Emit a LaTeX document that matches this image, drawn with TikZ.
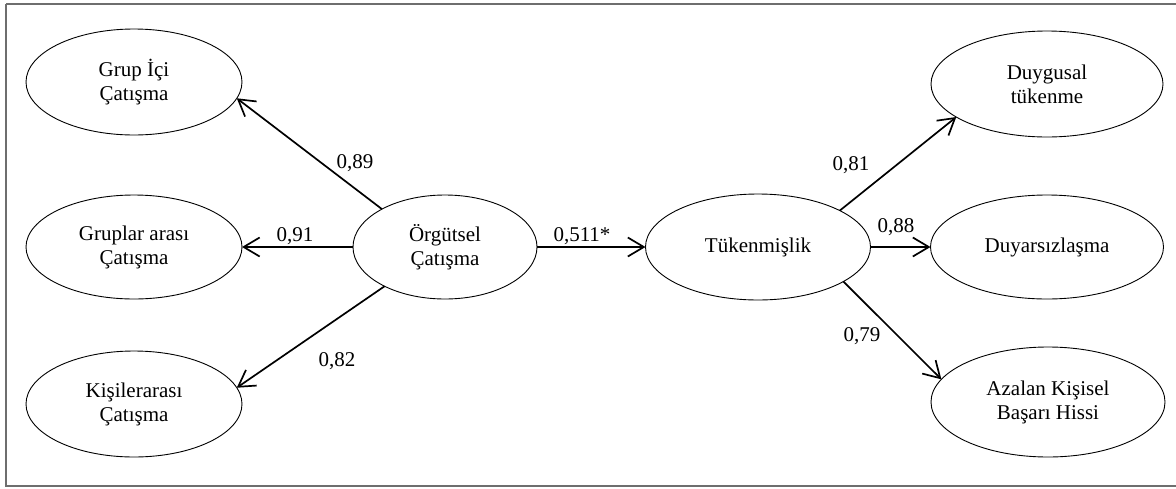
\documentclass[tikz,border=0pt]{standalone}
\usepackage{fontspec}
\setmainfont{Liberation Serif}
\usetikzlibrary{shapes.geometric,arrows.meta}
\definecolor{framegray}{RGB}{110,110,110}
\begin{document}
\begin{tikzpicture}[x=1pt,y=-1pt,
  ell/.style={ellipse, draw, line width=0.9pt, outer sep=0pt, inner sep=0pt, align=center,
              font=\fontsize{21}{24}\selectfont},
  conn/.style={line width=1.7pt, -{Straight Barb[length=16pt,width=19pt]}},
  lab/.style={font=\fontsize{21}{24}\selectfont, inner sep=0pt}]
\useasboundingbox (0,0) rectangle (1176,488);
\draw[framegray, line width=1.2pt] (6,4) -- (1190,4) (6,4) -- (6,486) -- (1190,486);
% left
\node[ell, minimum width=216pt, minimum height=106pt] (gi) at (134,82) {Grup İçi\\Çatışma};
\node[ell, minimum width=216pt, minimum height=104pt] (ga) at (134,247) {Gruplar arası\\Çatışma};
\node[ell, minimum width=216pt, minimum height=106pt] (ki) at (134,404) {Kişilerarası\\Çatışma};
% middle
\node[ell, minimum width=184pt, minimum height=104pt] (org) at (445,247) {Örgütsel\\Çatışma};
\node[ell, minimum width=225pt, minimum height=106pt] (tuk) at (758,247) {Tükenmişlik};
% right
\node[ell, minimum width=232pt, minimum height=106pt] (dt) at (1047,84) {Duygusal\\tükenme};
\node[ell, minimum width=233pt, minimum height=104pt] (dy) at (1047,247) {Duyarsızlaşma};
\node[ell, minimum width=234pt, minimum height=110pt] (ab) at (1048,402) {Azalan Kişisel\\Başarı Hissi};
% connectors
\draw[conn] (org.149) -- (gi.-9);
\draw[conn] (org.west) -- (ga.east);
\draw[conn] (org.213) -- (ki.9);
\draw[conn] (org.east) -- (tuk.west);
\draw[conn] (tuk.24) -- (dt.200);
\draw[conn] (tuk.east) -- (dy.west);
\draw[conn] (tuk.-22.5) -- (ab.168);
% labels
\node[lab] (l89) at (355,163) {0,89};
\node[lab] (l91) at (295,236) {0,91};
\node[lab] (l82) at (337,361) {0,82};
\node[lab] (l511) at (582,236) {0,511*};
\node[lab] (l81) at (851,165) {0,81};
\node[lab] (l88) at (896,227) {0,88};
\node[lab] (l79) at (862,336) {0,79};
\end{tikzpicture}
\end{document}
